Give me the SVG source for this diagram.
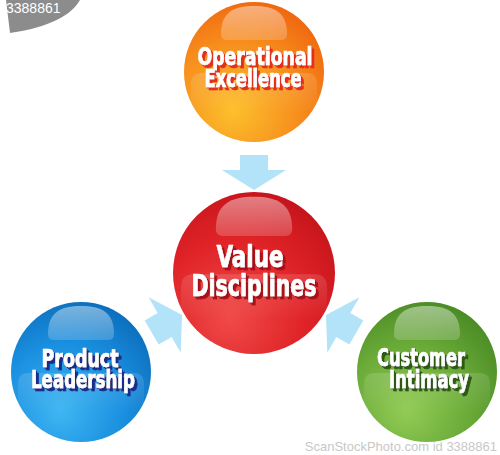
<svg xmlns="http://www.w3.org/2000/svg" width="500" height="455" viewBox="0 0 500 455">
  <defs>
    <style>
      .lbl { font-family: 'Liberation Sans Narrow','DejaVu Sans Condensed','Liberation Sans',sans-serif; font-stretch: condensed; font-weight: bold; text-anchor: middle; fill: #ffffff; stroke: #ffffff; stroke-width: 0.6; }
      .arrow { fill: #b3e3f8; }
      .wm { font-family: 'Liberation Sans',sans-serif; }
    </style>
    <filter id="sOrange" x="-10%" y="-20%" width="130%" height="150%">
      <feFlood flood-color="#e2301c" result="c"/>
      <feComposite in="c" in2="SourceAlpha" operator="in" result="s"/>
      <feOffset in="s" dx="1" dy="1" result="s1"/>
      <feOffset in="s" dx="2.5" dy="2.5" result="s2"/>
      <feMerge><feMergeNode in="s2"/><feMergeNode in="s1"/><feMergeNode in="SourceGraphic"/></feMerge>
    </filter>
    <filter id="sRed" x="-10%" y="-20%" width="130%" height="150%">
      <feFlood flood-color="#a8121a" result="c"/>
      <feComposite in="c" in2="SourceAlpha" operator="in" result="s"/>
      <feOffset in="s" dx="1" dy="1" result="s1"/>
      <feOffset in="s" dx="2.5" dy="2.5" result="s2"/>
      <feMerge><feMergeNode in="s2"/><feMergeNode in="s1"/><feMergeNode in="SourceGraphic"/></feMerge>
    </filter>
    <filter id="sBlue" x="-10%" y="-20%" width="130%" height="150%">
      <feFlood flood-color="#1a2d8c" result="c"/>
      <feComposite in="c" in2="SourceAlpha" operator="in" result="s"/>
      <feOffset in="s" dx="1" dy="1" result="s1"/>
      <feOffset in="s" dx="2.5" dy="2.5" result="s2"/>
      <feMerge><feMergeNode in="s2"/><feMergeNode in="s1"/><feMergeNode in="SourceGraphic"/></feMerge>
    </filter>
    <filter id="sGreen" x="-10%" y="-20%" width="130%" height="150%">
      <feFlood flood-color="#2e5a14" result="c"/>
      <feComposite in="c" in2="SourceAlpha" operator="in" result="s"/>
      <feOffset in="s" dx="1" dy="1" result="s1"/>
      <feOffset in="s" dx="2.5" dy="2.5" result="s2"/>
      <feMerge><feMergeNode in="s2"/><feMergeNode in="s1"/><feMergeNode in="SourceGraphic"/></feMerge>
    </filter>
    <radialGradient id="gOrange" cx="0.38" cy="0.72" r="0.8" fx="0.35" fy="0.78">
      <stop offset="0" stop-color="#fcc02c"/>
      <stop offset="0.55" stop-color="#f7901e"/>
      <stop offset="1" stop-color="#ef620d"/>
    </radialGradient>
    <radialGradient id="gRed" cx="0.38" cy="0.72" r="0.8" fx="0.35" fy="0.78">
      <stop offset="0" stop-color="#f04a48"/>
      <stop offset="0.55" stop-color="#e02428"/>
      <stop offset="1" stop-color="#c3121a"/>
    </radialGradient>
    <radialGradient id="gBlue" cx="0.38" cy="0.72" r="0.8" fx="0.35" fy="0.78">
      <stop offset="0" stop-color="#3fb6f2"/>
      <stop offset="0.55" stop-color="#1a90e0"/>
      <stop offset="1" stop-color="#0a6ab8"/>
    </radialGradient>
    <radialGradient id="gGreen" cx="0.38" cy="0.72" r="0.8" fx="0.35" fy="0.78">
      <stop offset="0" stop-color="#92cc55"/>
      <stop offset="0.55" stop-color="#6aaa38"/>
      <stop offset="1" stop-color="#468722"/>
    </radialGradient>
    <linearGradient id="gDome" x1="0" y1="0" x2="0" y2="1">
      <stop offset="0" stop-color="#ffffff" stop-opacity="0.45"/>
      <stop offset="1" stop-color="#ffffff" stop-opacity="0.18"/>
    </linearGradient>
    <linearGradient id="gBand" x1="0" y1="0" x2="0" y2="1">
      <stop offset="0" stop-color="#ffffff" stop-opacity="0.14"/>
      <stop offset="1" stop-color="#ffffff" stop-opacity="0"/>
    </linearGradient>
    <path id="dome" d="M -33,-38 C -33,-60 -20,-66 0,-66 C 20,-66 33,-60 33,-38 Q 33,-32 27,-32 H -27 Q -33,-32 -33,-38 Z" fill="url(#gDome)"/>
    <path id="band" d="M -63,12 Q -63,1 -52,1 H 52 Q 63,1 63,12 V 40 H -63 Z" fill="url(#gBand)"/>
    <path id="arw" d="M -14,-35 H 14 V -20 H 32 L 0,0 L -32,-20 H -14 Z"/>
  </defs>

  <g id="watermarks">
    <path d="M 0,0 H 80 C 72,14 52,27 10,33 L 6,0 Z" fill="#8c8c8c"/>
    <text class="wm" x="6" y="13" font-size="14" fill="#ffffff">3388861</text>
    <text class="wm" x="497" y="451" font-size="13" fill="#c8c8c8" text-anchor="end">ScanStockPhoto.com id 3388861</text>
  </g>

  <g id="connectors">
    <use href="#arw" class="arrow" transform="translate(254,190)"/>
    <use href="#arw" class="arrow" transform="translate(182,315) rotate(-120)"/>
    <use href="#arw" class="arrow" transform="translate(326,315) rotate(120)"/>
  </g>

  <g id="operational-excellence">
    <g transform="translate(254,72)">
      <circle r="70" fill="url(#gOrange)"/>
      <use href="#band"/>
      <use href="#dome"/>
    </g>
    <g filter="url(#sOrange)">
      <text class="lbl" x="255" y="65" font-size="24" textLength="115" lengthAdjust="spacingAndGlyphs">Operational</text>
      <text class="lbl" x="253" y="87" font-size="24" textLength="97" lengthAdjust="spacingAndGlyphs">Excellence</text>
    </g>
  </g>

  <g id="value-disciplines">
    <g transform="translate(254,273) scale(1.157)">
      <circle r="70" fill="url(#gRed)"/>
      <use href="#band"/>
      <use href="#dome"/>
    </g>
    <g filter="url(#sRed)">
      <text class="lbl" x="250" y="267" font-size="30" textLength="67" lengthAdjust="spacingAndGlyphs">Value</text>
      <text class="lbl" x="254" y="296" font-size="30" textLength="125" lengthAdjust="spacingAndGlyphs">Disciplines</text>
    </g>
  </g>

  <g id="product-leadership">
    <g transform="translate(81,372)">
      <circle r="70" fill="url(#gBlue)"/>
      <use href="#band"/>
      <use href="#dome"/>
    </g>
    <g filter="url(#sBlue)">
      <text class="lbl" x="80" y="367" font-size="25" textLength="77" lengthAdjust="spacingAndGlyphs">Product</text>
      <text class="lbl" x="83" y="388" font-size="25" textLength="104" lengthAdjust="spacingAndGlyphs">Leadership</text>
    </g>
  </g>

  <g id="customer-intimacy">
    <g transform="translate(427,372)">
      <circle r="70" fill="url(#gGreen)"/>
      <use href="#band"/>
      <use href="#dome"/>
    </g>
    <g filter="url(#sGreen)">
      <text class="lbl" x="421" y="366" font-size="25" textLength="88" lengthAdjust="spacingAndGlyphs">Customer</text>
      <text class="lbl" x="429" y="388" font-size="25" textLength="80" lengthAdjust="spacingAndGlyphs">Intimacy</text>
    </g>
  </g>
</svg>
